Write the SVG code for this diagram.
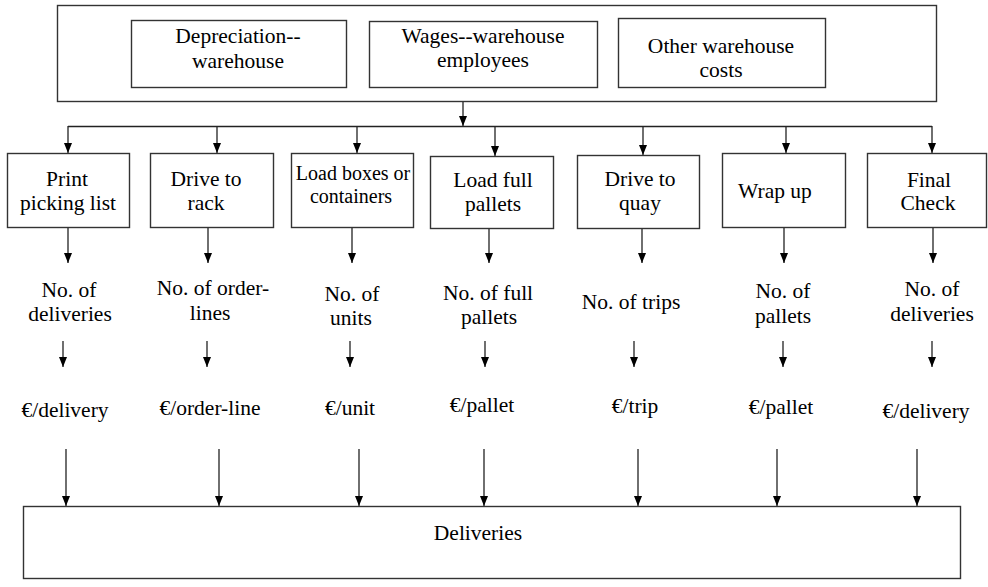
<svg xmlns="http://www.w3.org/2000/svg" width="988" height="587" viewBox="0 0 988 587" font-family="'Liberation Serif', 'Times New Roman', serif">
<defs>
<marker id="ah" markerUnits="userSpaceOnUse" viewBox="0 0 8 10" refX="4" refY="10" markerWidth="8" markerHeight="10" orient="0">
<path d="M0,0 L8,0 L4,10 Z" fill="#000"/>
</marker>
<style>
.box{fill:#fff;stroke:#333;stroke-width:1.4}
.ln{fill:none;stroke:#222;stroke-width:1.3}
.arr{fill:none;stroke:#222;stroke-width:1.3;marker-end:url(#ah)}
text{font-family:"Liberation Serif","Times New Roman",serif;font-size:21.5px;fill:#000;text-anchor:middle}
text.sm{font-size:20px}
</style>
</defs>
<rect width="988" height="587" fill="#fff"/>
<g id="costs">
<rect class="box" x="57.5" y="5.5" width="879" height="96"/>
</g>
<g id="depreciation">
<rect class="box" x="131.5" y="20.5" width="215" height="67"/>
<text x="238" y="43">Depreciation--</text>
<text x="238" y="68">warehouse</text>
</g>
<g id="wages">
<rect class="box" x="369.5" y="21.5" width="228" height="66"/>
<text x="483" y="43">Wages--warehouse</text>
<text x="483" y="67">employees</text>
</g>
<g id="other">
<rect class="box" x="618.5" y="18.5" width="207" height="69"/>
<text x="721" y="53">Other warehouse</text>
<text x="721" y="77">costs</text>
</g>
<g id="connectors">
<path class="arr" d="M463,102 V126"/>
<path class="ln" d="M68,126.5 H932"/>
<path class="arr" d="M68,126 V153"/>
<path class="arr" d="M217,126 V153"/>
<path class="arr" d="M357,126 V153"/>
<path class="arr" d="M495,126 V156"/>
<path class="arr" d="M643,126 V155"/>
<path class="arr" d="M786,126 V153"/>
<path class="arr" d="M932,126 V153"/>
<path class="arr" d="M68,227 V263"/>
<path class="arr" d="M208,227 V263"/>
<path class="arr" d="M352,227 V263"/>
<path class="arr" d="M489,228 V263"/>
<path class="arr" d="M642,228 V263"/>
<path class="arr" d="M784,227 V263"/>
<path class="arr" d="M933,227 V263"/>
<path class="arr" d="M63,341 V367"/>
<path class="arr" d="M207,341 V367"/>
<path class="arr" d="M350,341 V367"/>
<path class="arr" d="M485,341 V367"/>
<path class="arr" d="M634,341 V367"/>
<path class="arr" d="M783,341 V367"/>
<path class="arr" d="M932,341 V367"/>
<path class="arr" d="M66,449 V506"/>
<path class="arr" d="M219,449 V506"/>
<path class="arr" d="M359,449 V506"/>
<path class="arr" d="M484,449 V506"/>
<path class="arr" d="M638,449 V506"/>
<path class="arr" d="M777,449 V506"/>
<path class="arr" d="M917,449 V506"/>
</g>
<g id="print">
<rect class="box" x="7.5" y="153.5" width="122" height="74"/>
<text x="67" y="186">Print</text>
<text x="68" y="210">picking list</text>
</g>
<g id="drive-rack">
<rect class="box" x="150.5" y="153.5" width="123" height="74"/>
<text x="206" y="186">Drive to</text>
<text x="206" y="210">rack</text>
</g>
<g id="load-boxes">
<rect class="box" x="291.5" y="153.5" width="122" height="74"/>
<text class="sm" x="353" y="180">Load boxes or</text>
<text class="sm" x="351" y="203">containers</text>
</g>
<g id="load-pallets">
<rect class="box" x="430.5" y="156.5" width="123" height="72"/>
<text x="493" y="187">Load full</text>
<text x="493" y="211">pallets</text>
</g>
<g id="drive-quay">
<rect class="box" x="577.5" y="155.5" width="122" height="73"/>
<text x="640" y="186">Drive to</text>
<text x="640" y="210">quay</text>
</g>
<g id="wrap">
<rect class="box" x="722.5" y="153.5" width="123" height="74"/>
<text x="775" y="198">Wrap up</text>
</g>
<g id="final">
<rect class="box" x="867.5" y="153.5" width="119" height="74"/>
<text x="929" y="187">Final</text>
<text x="928" y="210">Check</text>
</g>
<g id="drivers">
<text x="69" y="297">No. of</text>
<text x="70" y="321">deliveries</text>
<text x="213" y="295">No. of order-</text>
<text x="210" y="320">lines</text>
<text x="352" y="301">No. of</text>
<text x="351" y="325">units</text>
<text x="488" y="300">No. of full</text>
<text x="489" y="324">pallets</text>
<text x="631" y="309">No. of trips</text>
<text x="783" y="298">No. of</text>
<text x="783" y="323">pallets</text>
<text x="932" y="296">No. of</text>
<text x="932" y="321">deliveries</text>
</g>
<g id="rates">
<text x="65" y="417">€/delivery</text>
<text x="210" y="415">€/order-line</text>
<text x="350" y="415">€/unit</text>
<text x="482" y="412">€/pallet</text>
<text x="635" y="413">€/trip</text>
<text x="781" y="414">€/pallet</text>
<text x="926" y="418">€/delivery</text>
</g>
<g id="deliveries">
<rect class="box" x="23.5" y="506.5" width="937" height="72"/>
<text x="478" y="540">Deliveries</text>
</g>
</svg>
